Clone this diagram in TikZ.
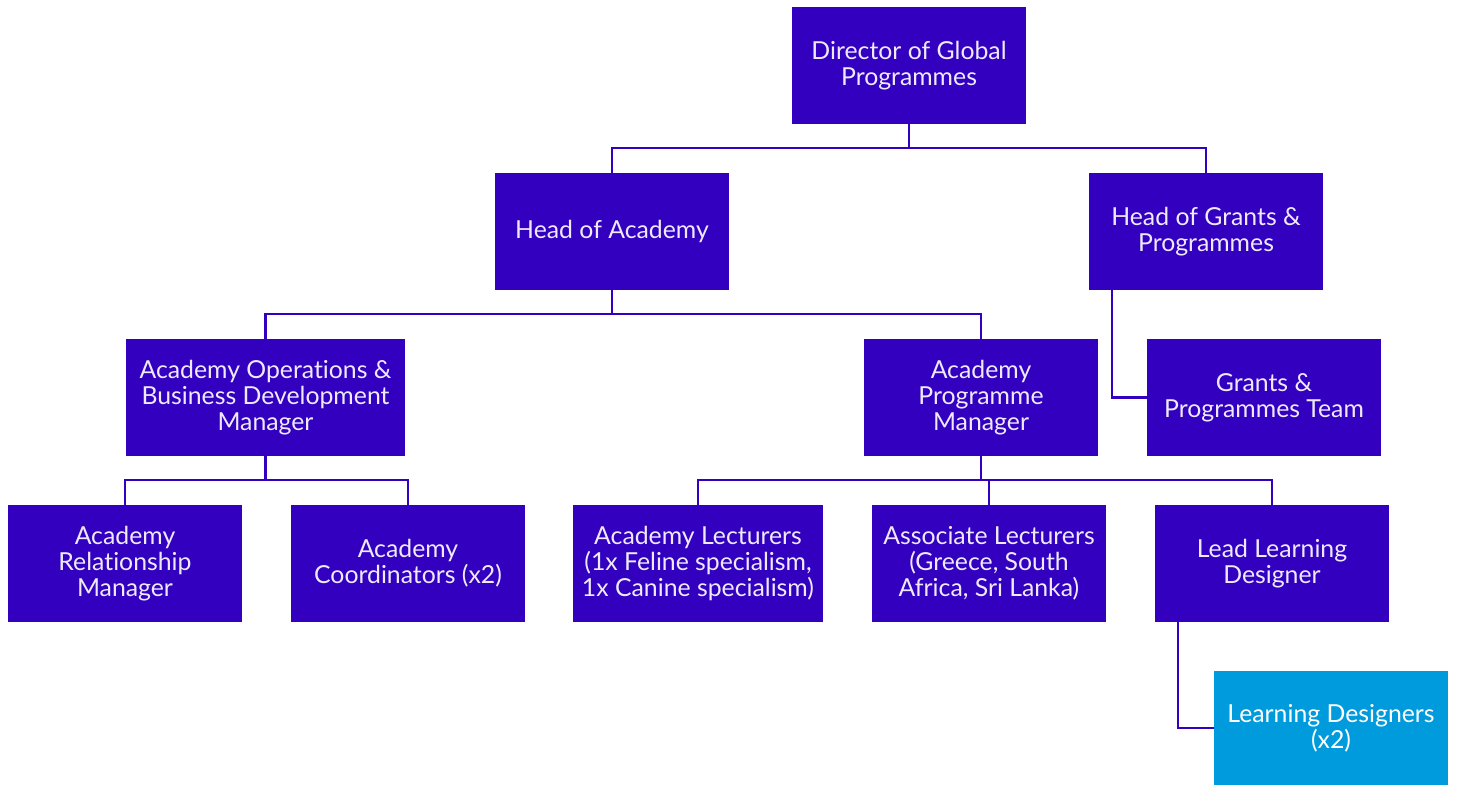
\documentclass[tikz,border=0pt]{standalone}
\usepackage{fontspec}
\setmainfont{Lato}[Ligatures={NoCommon,NoRare}]
\definecolor{boxpurple}{HTML}{3300C0}
\definecolor{boxblue}{HTML}{009BDC}
\definecolor{txt}{HTML}{EEEAFB}
\begin{document}
\begin{tikzpicture}[x=0.75pt,y=-0.75pt,
  orgbox/.style={fill=boxpurple, text=txt, minimum width=175.5pt, minimum height=87.75pt,
    align=center, inner sep=0pt, font=\fontsize{18.6}{19.5}\selectfont},
  link/.style={draw=boxpurple, line width=1.6pt}]
\useasboundingbox (0,0) rectangle (1459,785);
\node[orgbox] (dir) at (909,65.5) {Director of Global\\Programmes};
\node[orgbox] (hoa) at (612,231.5) {Head of Academy};
\node[orgbox] (hog) at (1206,231.5) {Head of Grants \&\\Programmes};
\node[orgbox, minimum width=209.25pt] (ops) at (265.5,397.5) {Academy Operations \&\\Business Development\\Manager};
\node[orgbox] (apm) at (981,397.5) {Academy\\Programme\\Manager};
\node[orgbox] (gpt) at (1264,397.5) {Grants \&\\Programmes Team};
\node[orgbox] (arm) at (125,563.5) {Academy\\Relationship\\Manager};
\node[orgbox] (aco) at (408,563.5) {Academy\\Coordinators (x2)};
\node[orgbox, minimum width=187.5pt] (ale) at (698,563.5) {Academy Lecturers\\(1x Feline specialism,\\1x Canine specialism)};
\node[orgbox] (asl) at (989,563.5) {Associate Lecturers\\(Greece, South\\Africa, Sri Lanka)};
\node[orgbox] (lld) at (1272,563.5) {Lead Learning\\Designer};
\node[orgbox, fill=boxblue, text=white, minimum height=85.5pt] (ld) at (1331,728) {Learning Designers\\(x2)};
% connectors
\draw[link] (dir.south) -- ++(0,24) -| (hoa.north);
\draw[link] (dir.south) ++(0,24) -| (hog.north);
\draw[link] (hoa.south) -- ++(0,24) -| (ops.north);
\draw[link] (hoa.south) ++(0,24) -| (apm.north);
\draw[link] (ops.south) -- ++(0,24) -| (arm.north);
\draw[link] (ops.south) ++(0,24) -| (aco.north);
\draw[link] (apm.south) -- ++(0,24) -| (ale.north);
\draw[link] (apm.south) ++(0,24) -| (lld.north);
\draw[link] (asl.north) -- ++(0,-25);
\coordinate (hogl) at (1112,290);
\draw[link] (hogl) |- (gpt.west);
\coordinate (lldl) at (1178,622);
\draw[link] (lldl) |- (ld.west);
\end{tikzpicture}
\end{document}
